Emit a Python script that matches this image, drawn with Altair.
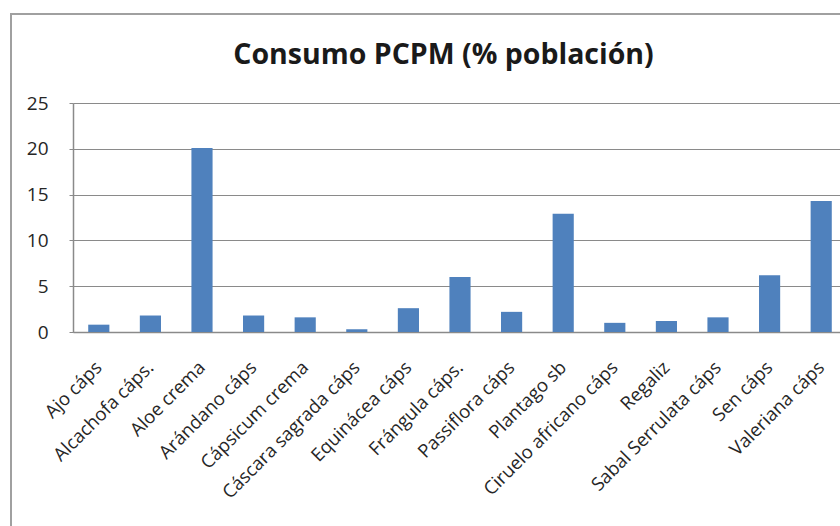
import altair as alt
import pandas as pd

categories = [
    "Ajo cáps", "Alcachofa cáps.", "Aloe crema", "Arándano cáps",
    "Cápsicum crema", "Cáscara sagrada cáps", "Equinácea cáps",
    "Frángula cáps.", "Passiflora cáps", "Plantago sb",
    "Ciruelo africano cáps", "Regaliz", "Sabal Serrulata cáps",
    "Sen cáps", "Valeriana cáps",
]
values = [0.8, 1.8, 20.1, 1.8, 1.6, 0.3, 2.6, 6.0, 2.2, 12.9, 1.0, 1.2, 1.6, 6.2, 14.3]
y_ticks = [0, 5, 10, 15, 20, 25]

df = pd.DataFrame({"cat": categories, "val": values})

FONT = "Open Sans"
GRAY = "#8a8a8a"
TEXT = "#262626"

bars = alt.Chart(df).mark_bar(color="#4F81BD").encode(
    x=alt.X(
        "cat:N",
        sort=categories,
        title=None,
        scale=alt.Scale(range=[0, 774], paddingInner=0.59, paddingOuter=0.295),
        axis=alt.Axis(
            labelAngle=-45,
            labelAlign="right",
            labelBaseline="middle",
            labelPadding=32,
            ticks=False,
            domainColor=GRAY,
            domainWidth=1.5,
            labelFont=FONT,
            labelFontSize=18.5,
            labelColor=TEXT,
            labelOverlap=False,
            labelLimit=0,
            grid=False,
        ),
    ),
    y=alt.Y(
        "val:Q",
        title=None,
        scale=alt.Scale(domain=[0, 25], nice=False),
        axis=alt.Axis(
            values=y_ticks,
            tickSize=4,
            tickColor=GRAY,
            labelPadding=21,
            domainColor=GRAY,
            domainWidth=1.5,
            gridColor=GRAY,
            gridWidth=1.2,
            labelFont=FONT,
            labelFontSize=19,
            labelColor=TEXT,
        ),
    ),
)

frame = alt.Chart(alt.Data(values=[{}])).mark_rect(
    fill=None, stroke="#a0a0a0", strokeWidth=2, clip=False
).encode(
    x=alt.value(-62), y=alt.value(-89), x2=alt.value(800), y2=alt.value(440)
)

chart = alt.layer(frame, bars).properties(
    width=767,
    height=229,
    title=alt.TitleParams(
        "Consumo PCPM (% población)",
        font=FONT,
        fontSize=28.5,
        fontWeight="bold",
        color="#1a1a1a",
        anchor="middle",
        frame="group",
        offset=-56,
        dx=-13,
    ),
    autosize=alt.AutoSizeParams(type="none"),
    padding={"left": 73, "top": 103, "right": 0, "bottom": 194},
).configure_view(stroke=None).configure(background="white")

chart.save("out.html", embed_options={"renderer": "svg", "actions": False})
